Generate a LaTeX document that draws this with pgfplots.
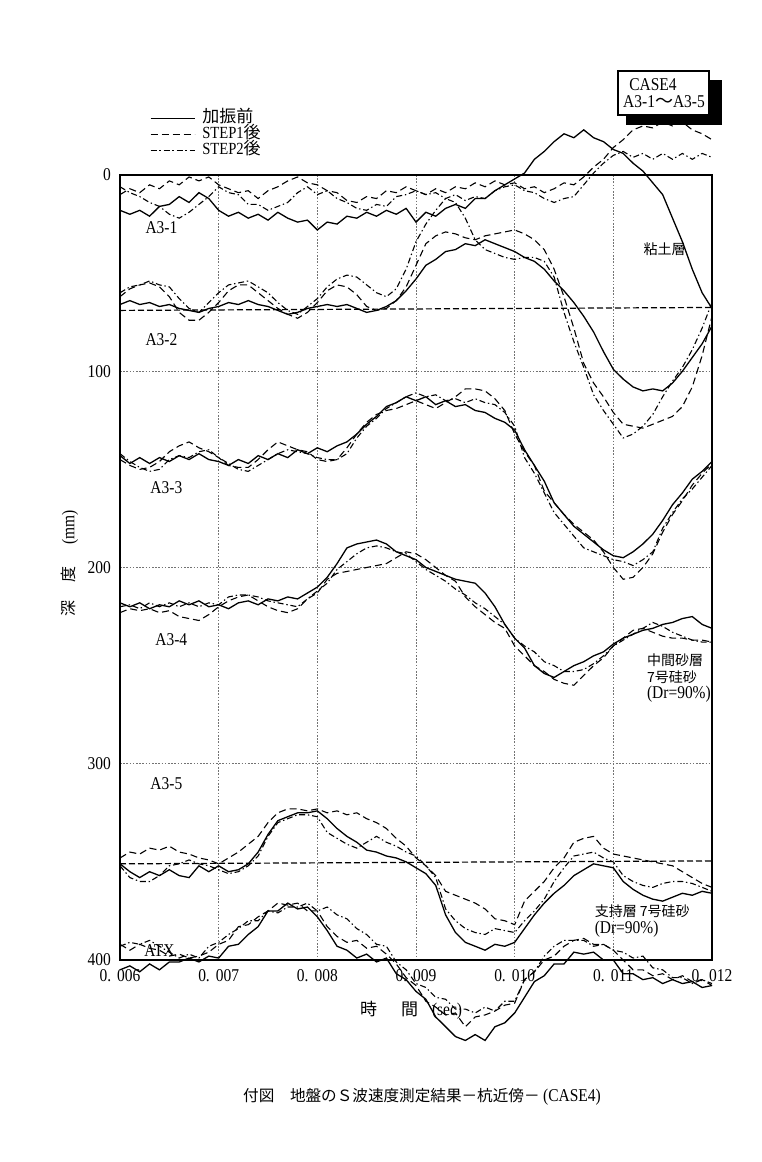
\documentclass[border=0pt]{standalone}
\usepackage{fontspec}
\setmainfont{Liberation Serif}[FakeStretch=0.86]
\newfontfamily\jp{Noto Sans CJK JP}
\usepackage{pgfplots}
\usepackage{pgfplotstable}
\pgfplotsset{compat=1.18}

% t in ms; columns: a = 加振前, b = STEP1後, c = STEP2後 (depth, mm)
\pgfplotstableread{
t a b c
6.0 18 10 6
6.1 20 7 9
6.2 18 9 11
6.3 21 5 14
6.4 16 7 16
6.5 15 3 20
6.6 11 5 22
6.7 14 1 19
6.8 9 3 15
6.9 12 1 11
7.0 18 5 6
7.1 21 7 9
7.2 19 9 10
7.3 22 8 15
7.4 20 12 15
7.5 23 8 18
7.6 19 6 16
7.7 22 3 14
7.8 24 1 9
7.9 23 4 6
8.0 28 5 10
8.1 24 8 8
8.2 25 9 12
8.3 21 13 14
8.4 22 14 17
8.5 19 11 18
8.6 21 12 15
8.7 18 8 16
8.8 20 9 11
8.9 17 6 10
9.0 24 8 8
9.1 19 10 10
9.2 21 7 9
9.3 17 9 12
9.4 15 6 10
9.5 17 7 13
9.6 12 4 11
9.7 12 6 12
9.8 8 3 8
9.9 5 5 6
10.0 2 4 5
10.1 -1 7 8
10.2 -8 6 9
10.3 -12 9 12
10.4 -17 7 14
10.5 -21 4 12
10.6 -19 5 11
10.7 -23 1 5
10.8 -19 -4 -1
10.9 -17 -8 -6
11.0 -13 -14 -10
11.1 -11 -18 -12
11.2 -6 -23 -9
11.3 -2 -25 -11
11.4 4 -24 -8
11.5 10 -27 -11
11.6 22 -25 -8
11.7 34 -27 -11
11.8 48 -23 -8
11.9 60 -21 -11
12.0 68 -18 -9
}\aone

\pgfplotstableread{
t a b c
6.0 66 62 60
6.1 64 58 57
6.2 66 56 56
6.3 65 55 54
6.4 67 57 56
6.5 66 62 57
6.6 68 70 63
6.7 69 74 68
6.8 70 74 70
6.9 68 70 65
7.0 67 65 60
7.1 65 59 56
7.2 66 56 55
7.3 64 56 54
7.4 66 60 57
7.5 67 64 60
7.6 69 68 65
7.7 71 71 69
7.8 70 73 71
7.9 68 70 67
8.0 67 65 63
8.1 66 59 57
8.2 67 56 53
8.3 66 57 51
8.4 68 61 52
8.5 70 67 56
8.6 69 69 60
8.7 67 68 62
8.8 64 64 58
8.9 59 57 48
9.0 53 46 34
9.1 46 35 25
9.2 43 31 18
9.3 39 29 12
9.4 38 30 14
9.5 35 32 22
9.6 36 33 33
9.7 33 31 38
9.8 35 30 40
9.9 37 29 42
10.0 39 28 43
10.1 42 30 42
10.2 44 33 42
10.3 48 38 44
10.4 54 48 52
10.5 59 62 70
10.6 65 78 85
10.7 72 96 98
10.8 80 106 112
10.9 90 113 120
11.0 99 121 127
11.1 104 127 134
11.2 108 128 132
11.3 110 129 128
11.4 109 127 122
11.5 110 125 113
11.6 106 123 105
11.7 100 118 98
11.8 93 108 89
11.9 86 92 78
12.0 77 72 65
}\atwo

\pgfplotstableread{
t a b c
6.0 143 145 142
6.1 147 148 146
6.2 144 150 149
6.3 147 149 151
6.4 144 146 150
6.5 146 141 145
6.6 143 138 143
6.7 145 136 144
6.8 142 139 141
6.9 145 141 140
7.0 146 144 144
7.1 148 148 147
7.2 145 149 150
7.3 147 149 151
7.4 143 145 148
7.5 145 140 145
7.6 142 136 142
7.7 144 138 140
7.8 140 140 141
7.9 142 141 142
8.0 139 145 144
8.1 141 146 145
8.2 138 145 145
8.3 136 139 142
8.4 132 132 134
8.5 127 126 128
8.6 123 122 124
8.7 118 120 119
8.8 116 119 116
8.9 113 117 113
9.0 115 115 111
9.1 113 117 113
9.2 117 119 112
9.3 115 116 115
9.4 118 113 114
9.5 117 109 116
9.6 120 109 114
9.7 121 110 116
9.8 124 114 117
9.9 126 120 121
10.0 130 132 128
10.1 140 141 144
10.2 148 148 152
10.3 156 161 162
10.4 167 167 172
10.5 173 173 178
10.6 179 178 184
10.7 183 182 190
10.8 187 186 192
10.9 191 192 194
11.0 194 200 196
11.1 195 206 197
11.2 192 205 199
11.3 188 200 196
11.4 183 193 192
11.5 176 182 180
11.6 168 173 172
11.7 162 166 165
11.8 155 158 160
11.9 151 152 154
12.0 146 147 148
}\athree

\pgfplotstableread{
t a b c
6.0 218 223 220
6.1 220 221 219
6.2 218 222 221
6.3 221 221 218
6.4 219 223 220
6.5 220 222 218
6.6 217 225 220
6.7 219 226 218
6.8 217 227 220
6.9 220 224 218
7.0 219 220 219
7.1 221 217 215
7.2 218 215 214
7.3 217 214 214
7.4 219 217 215
7.5 216 220 217
7.6 217 222 218
7.7 215 223 219
7.8 216 221 220
7.9 213 216 216
8.0 210 213 212
8.1 205 206 208
8.2 198 203 201
8.3 190 202 197
8.4 188 201 193
8.5 187 200 190
8.6 186 199 189
8.7 188 198 190
8.8 192 195 192
8.9 194 192 193
9.0 196 193 197
9.1 200 196 201
9.2 202 200 204
9.3 204 204 207
9.4 206 207 211
9.5 207 215 214
9.6 208 220 218
9.7 213 224 221
9.8 220 228 225
9.9 229 231 229
10.0 236 240 236
10.1 241 245 240
10.2 250 250 243
10.3 254 253 248
10.4 256 257 250
10.5 253 259 253
10.6 250 260 253
10.7 248 255 252
10.8 245 250 249
10.9 243 246 245
11.0 239 240 240
11.1 236 236 237
11.2 234 232 234
11.3 232 231 231
11.4 231 233 228
11.5 229 235 230
11.6 228 236 233
11.7 226 236 235
11.8 225 237 237
11.9 229 237 238
12.0 231 238 238
}\afour

\pgfplotstableread{
t a b c
6.0 351 348 352
6.1 355 345 358
6.2 358 346 360
6.3 355 343 360
6.4 357 344 357
6.5 354 342 352
6.6 357 345 351
6.7 358 346 349
6.8 352 348 351
6.9 355 349 352
7.0 352 351 354
7.1 355 348 356
7.2 354 345 355
7.3 351 341 352
7.4 345 337 347
7.5 336 330 337
7.6 329 325 330
7.7 327 323 328
7.8 325 323 326
7.9 325 324 326
8.0 324 323 327
8.1 328 325 335
8.2 333 324 338
8.3 337 326 341
8.4 340 325 343
8.5 344 328 340
8.6 345 330 337
8.7 347 333 340
8.8 348 338 342
8.9 350 342 345
9.0 353 348 347
9.1 356 352 352
9.2 362 357 358
9.3 377 365 374
9.4 386 367 380
9.5 391 369 384
9.6 393 371 386
9.7 395 374 387
9.8 392 379 384
9.9 393 380 385
10.0 391 382 386
10.1 384 370 380
10.2 377 365 375
10.3 371 360 369
10.4 366 353 360
10.5 362 348 353
10.6 357 340 347
10.7 354 338 346
10.8 351 337 345
10.9 352 343 348
11.0 353 346 350
11.1 360 347 357
11.2 364 348 360
11.3 367 349 362
11.4 369 350 363
11.5 370 351 361
11.6 368 352 360
11.7 366 355 360
11.8 367 358 361
11.9 365 361 363
12.0 366 363 365
}\afive

\pgfplotstableread{
t a b c
6.0 405 392 393
6.1 403 395 391
6.2 406 392 392
6.3 402 394 390
6.4 405 395 393
6.5 401 398 396
6.6 401 397 399
6.7 399 399 397
6.8 401 398 399
6.9 398 396 393
7.0 399 392 391
7.1 393 390 387
7.2 392 383 384
7.3 387 382 380
7.4 383 378 380
7.5 375 375 375
7.6 375 371 376
7.7 371 372 373
7.8 374 371 373
7.9 373 375 371
8.0 378 375 375
8.1 385 383 373
8.2 393 388 377
8.3 395 391 379
8.4 399 390 384
8.5 397 394 387
8.6 401 393 392
8.7 399 397 393
8.8 407 402 401
8.9 410 409 405
9.0 416 413 412
9.1 420 421 414
9.2 429 424 419
9.3 434 428 420
9.4 439 427 425
9.5 441 434 425
9.6 438 429 427
9.7 441 428 424
9.8 434 426 426
9.9 432 423 421
10.0 427 422 421
10.1 419 410 410
10.2 411 406 406
10.3 408 400 398
10.4 402 398 393
10.5 402 393 390
10.6 396 390 390
10.7 397 389 390
10.8 396 392 393
10.9 400 392 392
11.0 400 395 395
11.1 407 400 396
11.2 407 405 399
11.3 410 405 398
11.4 409 408 404
11.5 412 407 405
11.6 410 410 409
11.7 412 408 409
11.8 411 411 412
11.9 414 410 410
12.0 413 413 412
}\atx

\pgfplotsset{
  s0/.style={black, line width=0.65pt, solid},
  s1/.style={black, line width=0.55pt, dash pattern=on 3.5pt off 2pt},
  s2/.style={black, line width=0.55pt, dash pattern=on 3pt off 1.4pt on 0.7pt off 1.4pt},
}
\newcommand\lbl{\fontsize{9}{10}\selectfont}
\newcommand\lgd{\fontsize{8.5}{9}\selectfont}
\newcommand\jps{\jp\fontsize{7}{8.3}\selectfont}

\begin{document}
\begin{tikzpicture}
\path[use as bounding box] (0pt,0pt) rectangle (380.5pt,581pt);
\begin{axis}[
  at={(60pt,101pt)}, anchor=south west,
  width=296pt, height=392.5pt, scale only axis,
  xmin=6, xmax=12, ymin=0, ymax=400, y dir=reverse,
  xtick={6,7,8,9,10,11,12},
  xticklabels={0.\hspace{3pt}006,0.\hspace{3pt}007,0.\hspace{3pt}008,0.\hspace{3pt}009,0.\hspace{3pt}010,0.\hspace{3pt}011,0.\hspace{3pt}012},
  ytick={0,100,200,300,400},
  grid=major,
  grid style={line width=0.4pt, black!55, dash pattern=on 0.8pt off 0.8pt},
  major tick length=0pt,
  axis line style={line width=0.8pt},
  tick label style={font=\lbl},
  xticklabel style={yshift=-1pt},
  yticklabel style={xshift=-1pt},
  /pgf/number format/assume math mode=true,
  clip=false,
  legend style={at={(axis cs:6.3,-33)}, anchor=north west, draw=none, fill=none,
    inner sep=0pt, font=\lgd, row sep=0pt,
    nodes={inner sep=0.5pt, text height=5.5pt, text depth=1.5pt}},
  legend cell align=left,
  legend image code/.code={\draw[#1] (0pt,0pt) -- (22pt,0pt); \path (25pt,0pt);},
]
\addplot[s0, forget plot] table[x=t, y=a] {\aone};
\addplot[s1, forget plot] table[x=t, y=b] {\aone};
\addplot[s2, forget plot] table[x=t, y=c] {\aone};
\addplot[s0, forget plot] table[x=t, y=a] {\atwo};
\addplot[s1, forget plot] table[x=t, y=b] {\atwo};
\addplot[s2, forget plot] table[x=t, y=c] {\atwo};
\addplot[s0, forget plot] table[x=t, y=a] {\athree};
\addplot[s1, forget plot] table[x=t, y=b] {\athree};
\addplot[s2, forget plot] table[x=t, y=c] {\athree};
\addplot[s0, forget plot] table[x=t, y=a] {\afour};
\addplot[s1, forget plot] table[x=t, y=b] {\afour};
\addplot[s2, forget plot] table[x=t, y=c] {\afour};
\addplot[s0, forget plot] table[x=t, y=a] {\afive};
\addplot[s1, forget plot] table[x=t, y=b] {\afive};
\addplot[s2, forget plot] table[x=t, y=c] {\afive};
\addplot[s0, forget plot] table[x=t, y=a] {\atx};
\addplot[s1, forget plot] table[x=t, y=b] {\atx};
\addplot[s2, forget plot] table[x=t, y=c] {\atx};
% reference depths
\addplot[black, line width=0.6pt, dash pattern=on 3pt off 1.5pt, forget plot] coordinates {(6,69) (12,67.5)};
\addplot[black, line width=0.6pt, dash pattern=on 3pt off 1.5pt, forget plot] coordinates {(6,351) (12,349.5)};

\addlegendimage{s0}\addlegendentry{{\jp 加振前}}
\addlegendimage{s1}\addlegendentry{STEP1{\jp 後}}
\addlegendimage{s2}\addlegendentry{STEP2{\jp 後}}

\node[font=\lbl] at (axis cs:6.42,27) {A3-1};
\node[font=\lbl] at (axis cs:6.42,84) {A3-2};
\node[font=\lbl] at (axis cs:6.47,159.5) {A3-3};
\node[font=\lbl] at (axis cs:6.52,237) {A3-4};
\node[font=\lbl] at (axis cs:6.47,310) {A3-5};
\node[font=\lbl] at (axis cs:6.40,395) {ATX};
\node[font=\jps] at (axis cs:11.52,38) {粘土層};
\node[font=\jps, align=left, anchor=west] at (axis cs:11.27,256.5)
  {中間砂層\\7号硅砂\\{\normalfont\lbl (Dr=90\%)}};
\node[font=\jps, align=left, anchor=west] at (axis cs:10.74,380)
  {支持層 7号硅砂\\{\normalfont\lbl (Dr=90\%)}};
\node[font=\lbl] at (axis cs:8.95,425.5)
  {{\jp\fontsize{8.5}{9}\selectfont 時}\hspace{12pt}{\jp\fontsize{8.5}{9}\selectfont 間}\hspace{7pt}(sec)};
\node[font=\lbl, rotate=90] at (axis cs:5.49,198)
  {{\jp\fontsize{8}{9}\selectfont 深}\hspace{9pt}{\jp\fontsize{8}{9}\selectfont 度}\hspace{11pt}(mm)};
\end{axis}

% CASE box with shadow
\fill[black] (313pt,518.5pt) rectangle (361pt,541pt);
\draw[fill=white, line width=0.8pt] (309pt,523.5pt) rectangle (354.5pt,545.5pt);
\node[font=\lbl] at (326.5pt,538.5pt) {CASE4};
\node[font=\lbl] at (332pt,530pt) {A3-1{\jp 〜}A3-5};

\node[font=\jp\fontsize{7.8}{9}\selectfont] at (211pt,32.5pt)
  {付図　地盤のＳ波速度測定結果－杭近傍－ {\normalfont\lbl (CASE4)}};
\end{tikzpicture}
\end{document}
